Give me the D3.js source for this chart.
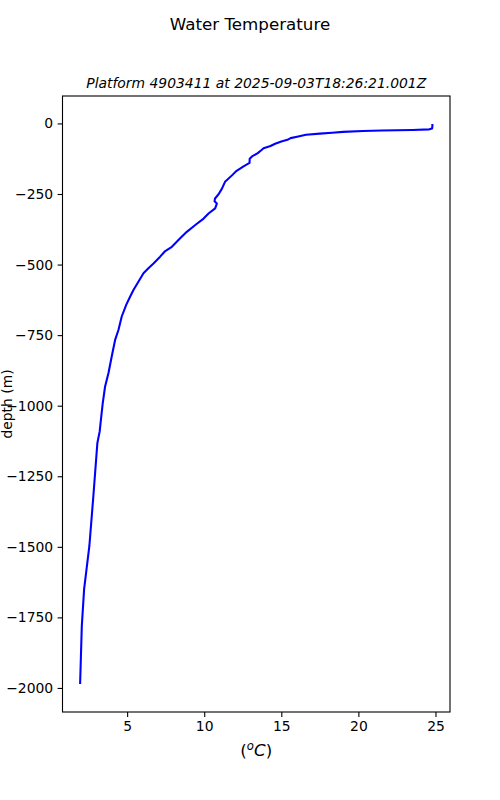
<!DOCTYPE html>
<html>
<head>
<meta charset="utf-8">
<script src="https://cdn.jsdelivr.net/npm/d3@7"></script>
<style>
  html, body { margin: 0; padding: 0; background: #fff; }
  svg { display: block; font-family: "DejaVu Sans", sans-serif; }
</style>
</head>
<body>
<svg id="chart" width="500" height="800"></svg>
<script>
// ---- Data ----
const depths = [-2, -10, -18, -21, -23, -25, -27, -30, -33, -36, -40, -46, -52, -58, -64, -72, -80, -88, -95,
  -106, -117, -125, -140, -152, -168, -184, -207, -231, -251, -266, -276, -284, -301, -319, -337, -360, -384,
  -407, -437, -452, -472, -496, -513, -531, -561, -590, -614, -643, -684, -731, -767, -826, -884, -932, -990,
  -1049, -1091, -1132, -1320, -1497, -1650, -1780, -1986];
const temps = [24.8, 24.8, 24.78, 24.6, 23.5, 21.5, 20.3, 19.0, 18.3, 17.5, 16.6, 16.1, 15.6, 15.4, 15.0, 14.6, 14.3, 13.85, 13.7,
  13.45, 13.1, 12.95, 12.94, 12.55, 12.1, 11.8, 11.35, 11.15, 10.93, 10.7, 10.67, 10.82, 10.71, 10.28, 9.96, 9.42, 8.87,
  8.44, 7.9, 7.47, 7.14, 6.71, 6.38, 6.06, 5.73, 5.41, 5.19, 4.94, 4.65, 4.44, 4.22, 4.0, 3.79, 3.57, 3.42,
  3.3, 3.22, 3.07, 2.81, 2.55, 2.21, 2.06, 1.95];
const xTicks = [5, 10, 15, 20, 25];
const yTicks = [0, -250, -500, -750, -1000, -1250, -1500, -1750, -2000];
const suptitle = "Water Temperature";
const title = "Platform 4903411 at 2025-09-03T18:26:21.001Z";
const yLabel = "depth (m)";

(function () {
const points = depths.map((d, i) => ({ depth: d, temp: temps[i] }));

// ---- Layout ----
const svg = d3.select("#chart");
const mLeft = 62.5, mRight = 450, mTop = 96, mBottom = 712;

function padded(ext) {
  const r = ext[1] - ext[0];
  return [ext[0] - 0.05 * r, ext[1] + 0.05 * r];
}
const x = d3.scaleLinear().domain(padded(d3.extent(temps))).range([mLeft, mRight]);
const y = d3.scaleLinear().domain(padded(d3.extent(depths))).range([mBottom, mTop]);

const fmt = v => (v < 0 ? "\u2212" + Math.abs(v) : String(v));

// line
svg.append("path")
  .datum(points)
  .attr("fill", "none")
  .attr("stroke", "#0000ff")
  .attr("stroke-width", 2.08)
  .attr("stroke-linejoin", "round")
  .attr("stroke-linecap", "butt")
  .attr("d", d3.line().x(d => x(d.temp)).y(d => y(d.depth)));

// axes
const xAxis = svg.append("g")
  .attr("transform", `translate(0,${mBottom})`)
  .call(d3.axisBottom(x).tickValues(xTicks).tickSize(4.9).tickPadding(4.4).tickFormat(fmt));
const yAxis = svg.append("g")
  .attr("transform", `translate(${mLeft},0)`)
  .call(d3.axisLeft(y).tickValues(yTicks).tickSize(4.9).tickPadding(4.4).tickFormat(fmt));

[xAxis, yAxis].forEach(g => {
  g.select(".domain").remove();
  g.selectAll(".tick line").attr("stroke", "#000").attr("stroke-width", 1.1);
  g.selectAll(".tick text").attr("fill", "#000")
    .style("font-family", "'DejaVu Sans', sans-serif").style("font-size", "13.9px");
});

// frame
svg.append("rect")
  .attr("x", mLeft).attr("y", mTop)
  .attr("width", mRight - mLeft).attr("height", mBottom - mTop)
  .attr("fill", "none").attr("stroke", "#000").attr("stroke-width", 1.1);

// titles
svg.append("text")
  .attr("x", 250).attr("y", 30)
  .attr("text-anchor", "middle")
  .style("font-size", "16.7px")
  .text(suptitle);

svg.append("text")
  .attr("x", (mLeft + mRight) / 2).attr("y", 87.5)
  .attr("text-anchor", "middle")
  .style("font-size", "13.9px")
  .style("font-style", "italic")
  .text(title);

// y label
svg.append("text")
  .attr("transform", `translate(11.5,${(mTop + mBottom) / 2}) rotate(-90)`)
  .attr("text-anchor", "middle")
  .style("font-size", "13.9px")
  .text(yLabel);

// x label  (^oC) mathtext
const xl = svg.append("text")
  .attr("x", (mLeft + mRight) / 2).attr("y", 756)
  .attr("text-anchor", "middle")
  .style("font-size", "16.7px");
xl.append("tspan").text("(");
xl.append("tspan").attr("dy", -6.5).style("font-size", "11.7px").style("font-style", "italic").text("o");
xl.append("tspan").attr("dy", 6.5).style("font-style", "italic").text("C");
xl.append("tspan").text(")");
})();
</script>
</body>
</html>
